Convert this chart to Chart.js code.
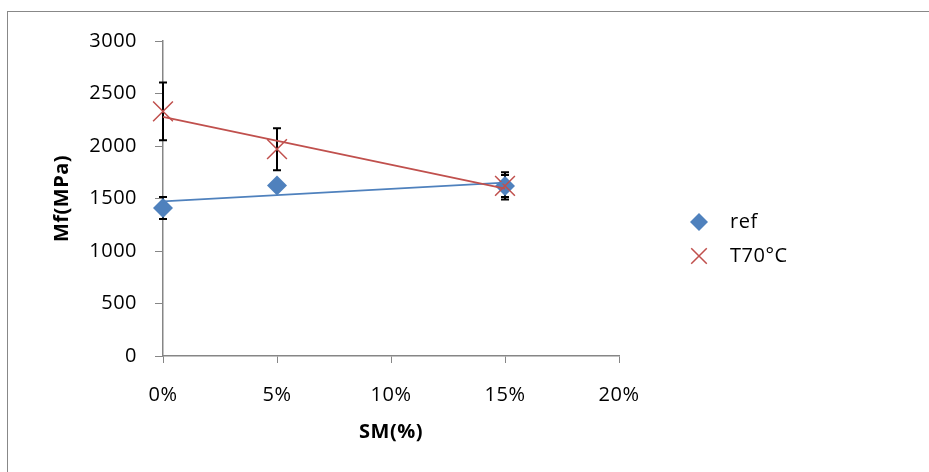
<!DOCTYPE html>
<html>
<head>
<meta charset="utf-8">
<script src="https://cdn.jsdelivr.net/npm/chart.js@4.4.1/dist/chart.umd.min.js"></script>
<style>
  body { margin: 0; background: #fff; }
  #wrap { position: relative; width: 929px; height: 472px; overflow: hidden; }
  #frame { position: absolute; left: 7px; top: 11px; width: 1000px; height: 600px; border: 1px solid #888; }
  canvas { position: absolute; left: 0; top: 0; }
</style>
</head>
<body>
<div id="wrap">
  <div id="frame"></div>
  <canvas id="mfChart" width="929" height="472"></canvas>
</div>
<script>
// SM content (%) and flexural modulus Mf (MPa)
const smLevels = [0, 5, 15];
const refValues = [1410, 1625, 1620];
const refErrors = [105, 30, 105];
const t70Values = [2330, 1970, 1620];
const t70Errors = [275, 200, 130];
const seriesNames = ['ref', 'T70°C'];
const xTicks = [0, 5, 10, 15, 20];
const yTicks = [0, 500, 1000, 1500, 2000, 2500, 3000];

const blue = '#4F81BD';
const red = '#C0504D';
const axisGrey = '#868686';
const fontFamily = '"Open Sans", sans-serif';

function points(xs, ys) {
    return xs.map((x, i) => ({ x: x, y: ys[i] }));
}

// droite de tendance linéaire (moindres carrés)
function trend(xs, ys) {
    const n = xs.length;
    const mx = xs.reduce((a, b) => a + b, 0) / n;
    const my = ys.reduce((a, b) => a + b, 0) / n;
    let sxy = 0, sxx = 0;
    xs.forEach((x, i) => { sxy += (x - mx) * (ys[i] - my); sxx += (x - mx) * (x - mx); });
    const b = sxy / sxx;
    const a = my - b * mx;
    const x0 = xs[0], x1 = xs[n - 1];
    return [{ x: x0, y: a + b * x0 }, { x: x1, y: a + b * x1 }];
}

const textSpacing = {
    id: 'textSpacing',
    beforeDraw(chart) { chart.ctx.letterSpacing = '0.5px'; }
};

const errorBars = {
    id: 'errorBars',
    beforeDatasetsDraw(chart) {
        const { ctx, scales: { x, y } } = chart;
        ctx.save();
        ctx.strokeStyle = '#000';
        ctx.lineWidth = 2;
        chart.data.datasets.forEach(ds => {
            if (!ds.errors) return;
            ds.data.forEach((p, i) => {
                const px = x.getPixelForValue(p.x);
                const top = y.getPixelForValue(p.y + ds.errors[i]);
                const bot = y.getPixelForValue(p.y - ds.errors[i]);
                ctx.beginPath();
                ctx.moveTo(px, top); ctx.lineTo(px, bot);
                ctx.moveTo(px - 4, top); ctx.lineTo(px + 4, top);
                ctx.moveTo(px - 4, bot); ctx.lineTo(px + 4, bot);
                ctx.stroke();
            });
        });
        ctx.restore();
    }
};

const sideLegend = {
    id: 'sideLegend',
    afterDraw(chart) {
        const ctx = chart.ctx;
        const items = chart.data.datasets.filter(ds => ds.label);
        ctx.save();
        ctx.font = '20px ' + fontFamily;
        ctx.textBaseline = 'middle';
        ctx.textAlign = 'left';
        seriesNames.forEach((name, i) => {
            const ds = items.find(d => d.label === name);
            const y = 222 + i * 34;
            ctx.strokeStyle = ds.borderColor;
            ctx.fillStyle = ds.backgroundColor;
            ctx.lineWidth = ds.pointBorderWidth;
            Chart.helpers.drawPoint(ctx, {
                pointStyle: ds.pointStyle,
                radius: ds.pointStyle === 'rectRot' ? 9 : 11,
                borderWidth: ds.pointBorderWidth
            }, 699, y);
            ctx.fillStyle = '#000';
            ctx.fillText(name, 730, y);
        });
        ctx.restore();
    }
};

function createMfChart() {
    const ctx = document.getElementById('mfChart').getContext('2d');
    new Chart(ctx, {
        type: 'scatter',
        data: {
            datasets: [
                {
                    data: trend(smLevels, t70Values),
                    showLine: true, borderColor: red, borderWidth: 1.8,
                    pointRadius: 0, order: 0, clip: false
                },
                {
                    data: trend(smLevels, refValues),
                    showLine: true, borderColor: blue, borderWidth: 1.8,
                    pointRadius: 0, order: 0, clip: false
                },
                {
                    label: seriesNames[1],
                    data: points(smLevels, t70Values),
                    errors: t70Errors,
                    pointStyle: 'crossRot', pointRadius: 14, pointBorderWidth: 1.5,
                    borderColor: red, backgroundColor: red, order: 1, clip: false
                },
                {
                    label: seriesNames[0],
                    data: points(smLevels, refValues),
                    errors: refErrors,
                    pointStyle: 'rectRot', pointRadius: 10, pointBorderWidth: 0,
                    borderColor: blue, backgroundColor: blue, order: 2, clip: false
                }
            ]
        },
        options: {
            responsive: false,
            animation: false,
            layout: { padding: { top: 41, right: 310, left: 0, bottom: 0 } },
            plugins: { legend: { display: false }, tooltip: { enabled: false } },
            scales: {
                x: {
                    type: 'linear', min: 0, max: 20,
                    afterBuildTicks: s => { s.ticks = xTicks.map(v => ({ value: v })); },
                    afterFit: s => { s.height = 116; },
                    grid: { drawOnChartArea: false, drawTicks: true, tickLength: 7, color: axisGrey },
                    border: { color: axisGrey, width: 1.5 },
                    ticks: {
                        callback: v => v + '%', color: '#000', padding: 20,
                        font: { family: fontFamily, size: 20 }, maxRotation: 0
                    },
                    title: {
                        display: true, text: 'SM(%)', color: '#000',
                        font: { family: fontFamily, size: 20, weight: 'bold' },
                        padding: { top: 0, bottom: 28 }
                    }
                },
                y: {
                    min: 0, max: 3000,
                    afterBuildTicks: s => { s.ticks = yTicks.map(v => ({ value: v })); },
                    afterFit: s => { s.width = 163; },
                    grid: { drawOnChartArea: false, drawTicks: true, tickLength: 8, color: axisGrey },
                    border: { color: axisGrey, width: 1.5 },
                    ticks: {
                        callback: v => String(v), color: '#000', padding: 18,
                        font: { family: fontFamily, size: 20 }
                    },
                    title: {
                        display: true, text: 'Mf(MPa)', color: '#000',
                        font: { family: fontFamily, size: 20, weight: 'bold' },
                        padding: { top: 50, bottom: 0 }
                    }
                }
            }
        },
        plugins: [textSpacing, errorBars, sideLegend]
    });
}

window.onload = function() {
    createMfChart();
};
</script>
</body>
</html>
